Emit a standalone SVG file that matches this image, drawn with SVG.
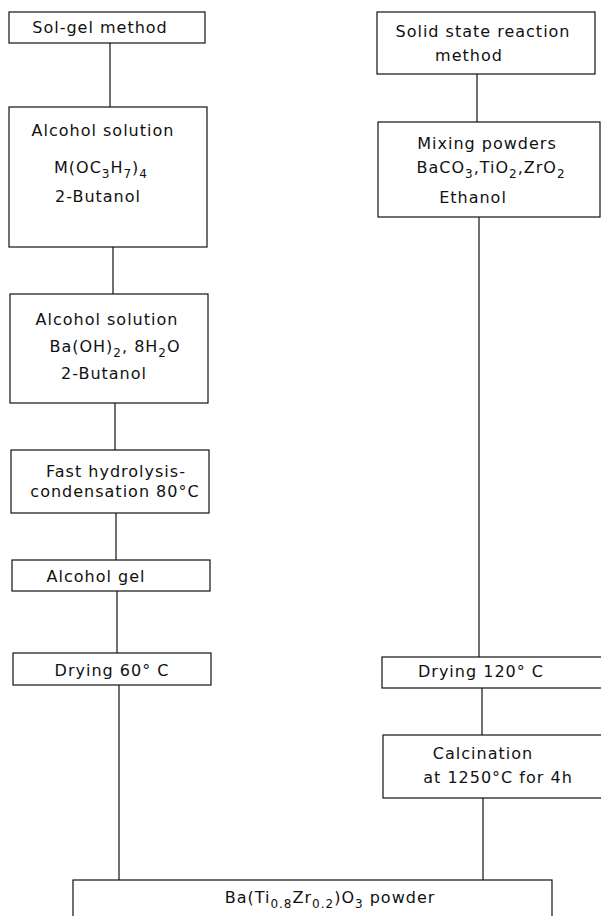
<svg xmlns="http://www.w3.org/2000/svg" width="601" height="916" viewBox="0 0 601 916">
<style>
.box{fill:#fff;stroke:#111;stroke-width:1.2}
.ln{stroke:#111;stroke-width:1.2;fill:none}
text{font-family:"DejaVu Sans","Liberation Sans",sans-serif;font-size:16px;fill:#111;text-anchor:middle;letter-spacing:1px}
.s{font-size:12px}
</style>
<rect width="601" height="916" fill="#fff"/>
<g id="connectors">
<line class="ln" x1="110" y1="43" x2="110" y2="107"/>
<line class="ln" x1="113" y1="247" x2="113" y2="294"/>
<line class="ln" x1="115" y1="403" x2="115" y2="450"/>
<line class="ln" x1="116" y1="513" x2="116" y2="560"/>
<line class="ln" x1="117" y1="591" x2="117" y2="653"/>
<line class="ln" x1="119" y1="685" x2="119" y2="880"/>
<line class="ln" x1="477" y1="74" x2="477" y2="122"/>
<line class="ln" x1="479" y1="217" x2="479" y2="657"/>
<line class="ln" x1="482" y1="688" x2="482" y2="735"/>
<line class="ln" x1="483" y1="798" x2="483" y2="880"/>
</g>
<g id="solgel">
<rect class="box" x="9" y="12" width="196" height="31"/>
<text x="100" y="33">Sol-gel method</text>
</g>
<g id="alcohol1">
<rect class="box" x="9" y="107" width="198" height="140"/>
<text x="103" y="136">Alcohol solution</text>
<text x="101" y="173">M(OC<tspan class="s" dy="5">3</tspan><tspan dy="-5">H</tspan><tspan class="s" dy="5">7</tspan><tspan dy="-5">)</tspan><tspan class="s" dy="5">4</tspan></text>
<text x="98" y="202">2-Butanol</text>
</g>
<g id="alcohol2">
<rect class="box" x="10" y="294" width="198" height="109"/>
<text x="107" y="325">Alcohol solution</text>
<text x="115" y="352">Ba(OH)<tspan class="s" dy="5">2</tspan><tspan dy="-5">, 8H</tspan><tspan class="s" dy="5">2</tspan><tspan dy="-5">O</tspan></text>
<text x="104" y="379">2-Butanol</text>
</g>
<g id="hydrolysis">
<rect class="box" x="11" y="450" width="198" height="63"/>
<text x="116" y="477">Fast hydrolysis-</text>
<text x="115" y="497">condensation 80°C</text>
</g>
<g id="gel">
<rect class="box" x="12" y="560" width="198" height="31"/>
<text x="96" y="582">Alcohol gel</text>
</g>
<g id="drying60">
<rect class="box" x="13" y="653" width="198" height="32"/>
<text x="112" y="676">Drying 60° C</text>
</g>
<g id="solidstate">
<rect class="box" x="377" y="12" width="218" height="62"/>
<text x="483" y="37">Solid state reaction</text>
<text x="469" y="61">method</text>
</g>
<g id="mixing">
<rect class="box" x="378" y="122" width="222" height="95"/>
<text x="487" y="149">Mixing powders</text>
<text x="491" y="173">BaCO<tspan class="s" dy="5">3</tspan><tspan dy="-5">,TiO</tspan><tspan class="s" dy="5">2</tspan><tspan dy="-5">,ZrO</tspan><tspan class="s" dy="5">2</tspan></text>
<text x="473" y="203">Ethanol</text>
</g>
<g id="drying120">
<rect class="box" x="382" y="657" width="225" height="31"/>
<text x="481" y="677">Drying 120° C</text>
</g>
<g id="calcination">
<rect class="box" x="383" y="735" width="225" height="63"/>
<text x="483" y="759">Calcination</text>
<text x="498" y="783">at 1250°C for 4h</text>
</g>
<g id="product">
<rect class="box" x="73" y="880" width="479" height="50"/>
<text x="330" y="903">Ba(Ti<tspan class="s" dy="5">0.8</tspan><tspan dy="-5">Zr</tspan><tspan class="s" dy="5">0.2</tspan><tspan dy="-5">)O</tspan><tspan class="s" dy="5">3</tspan><tspan dy="-5"> powder</tspan></text>
</g>
</svg>
